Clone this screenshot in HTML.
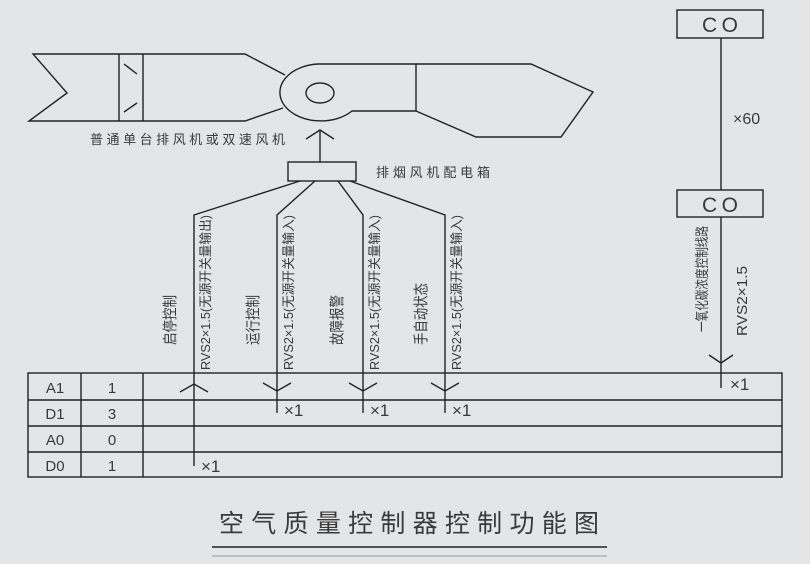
<!DOCTYPE html>
<html><head><meta charset="utf-8"><style>
html,body{margin:0;padding:0;background:#e4e5e7;}
svg{display:block;font-family:"Liberation Sans","Noto Sans CJK SC",sans-serif;}
</style></head><body>
<svg width="810" height="564" viewBox="0 0 810 564" xmlns="http://www.w3.org/2000/svg">
<g fill="none" stroke="#222" stroke-width="1.4">
<polyline points="285,75 245,54 33,54 67,93 29,121 245,121 283,108"/>
<line x1="119" y1="54" x2="119" y2="121"/><line x1="143" y1="54" x2="143" y2="121"/>
<line x1="124" y1="64" x2="137" y2="74"/><line x1="124" y1="112" x2="137" y2="103"/>
<path d="M416,64 L318,64 A41,28.5 0 1 0 352,111 L416,111 Z"/>
<ellipse cx="320" cy="93" rx="14" ry="10"/>
<polyline points="416,64 531,64 593,92 561,137 476,137 416,111"/>
<line x1="320" y1="130" x2="320" y2="162"/>
<polyline points="306,139 320,130 334,139"/>
<rect x="288" y="162" width="68" height="19"/>
<polyline points="300,181 194,215 194,466"/>
<polyline points="315,181 277,215 277,413"/>
<polyline points="338,181 363,215 363,413"/>
<polyline points="350,181 445,215 445,413"/>
<polyline points="180,392 194,384 208,392"/>
<polyline points="263,383 277,391 291,383"/>
<polyline points="349,383 363,391 377,383"/>
<polyline points="431,383 445,391 459,383"/>
<rect x="677" y="10" width="86" height="28"/>
<rect x="677" y="190" width="86" height="27"/>
<line x1="721" y1="38" x2="721" y2="190"/>
<line x1="721" y1="217" x2="721" y2="388"/>
<polyline points="709,355 721,363 733,355"/>
<rect x="28" y="373" width="754" height="104"/>
<line x1="28" y1="400" x2="782" y2="400"/>
<line x1="28" y1="426" x2="782" y2="426"/>
<line x1="28" y1="452" x2="782" y2="452"/>
<line x1="81" y1="373" x2="81" y2="477"/>
<line x1="143" y1="373" x2="143" y2="477"/>
<line x1="212" y1="547" x2="607" y2="547"/>
</g>
<line x1="212" y1="556" x2="607" y2="556" stroke="#999" stroke-width="1"/>
<g fill="#3a3a3a" font-size="14">
<text x="90" y="144" font-size="13" textLength="195">普通单台排风机或双速风机</text>
<text x="376" y="177" font-size="13" textLength="114">排烟风机配电箱</text>
<text x="720" y="32" font-size="21" text-anchor="middle" textLength="36">CO</text>
<text x="720" y="212" font-size="21" text-anchor="middle" textLength="36">CO</text>
<text x="733" y="124" font-size="16">×60</text>
<text x="730" y="390" font-size="17">×1</text>
<text x="201" y="472" font-size="17">×1</text>
<text x="284" y="416" font-size="17">×1</text>
<text x="370" y="416" font-size="17">×1</text>
<text x="452" y="416" font-size="17">×1</text>
<g font-size="15" text-anchor="middle">
<text x="55" y="393">A1</text><text x="112" y="393">1</text>
<text x="55" y="419">D1</text><text x="112" y="419">3</text>
<text x="55" y="445">A0</text><text x="112" y="445">0</text>
<text x="55" y="471">D0</text><text x="112" y="471">1</text>
</g>
<g font-size="13">
<text transform="translate(210,370) rotate(-90)" textLength="155" lengthAdjust="spacingAndGlyphs">RVS2×1.5(无源开关量输出)</text>
<text transform="translate(293,370) rotate(-90)" textLength="155" lengthAdjust="spacingAndGlyphs">RVS2×1.5(无源开关量输入)</text>
<text transform="translate(379,370) rotate(-90)" textLength="155" lengthAdjust="spacingAndGlyphs">RVS2×1.5(无源开关量输入)</text>
<text transform="translate(461,370) rotate(-90)" textLength="155" lengthAdjust="spacingAndGlyphs">RVS2×1.5(无源开关量输入)</text>
<text transform="translate(175,345) rotate(-90)" font-size="15" textLength="50" lengthAdjust="spacingAndGlyphs">启停控制</text>
<text transform="translate(258,345) rotate(-90)" font-size="15" textLength="50" lengthAdjust="spacingAndGlyphs">运行控制</text>
<text transform="translate(342,345) rotate(-90)" font-size="15" textLength="50" lengthAdjust="spacingAndGlyphs">故障报警</text>
<text transform="translate(426,345) rotate(-90)" font-size="15" textLength="62" lengthAdjust="spacingAndGlyphs">手自动状态</text>
<text transform="translate(707,332) rotate(-90)" font-size="14" textLength="106" lengthAdjust="spacingAndGlyphs">一氧化碳浓度控制线路</text>
<text transform="translate(747,336) rotate(-90)" font-size="15" textLength="70" lengthAdjust="spacingAndGlyphs">RVS2×1.5</text>
</g>
<text x="219" y="532" font-size="25" textLength="380" lengthAdjust="spacing">空气质量控制器控制功能图</text>
</g>
</svg>
</body></html>
